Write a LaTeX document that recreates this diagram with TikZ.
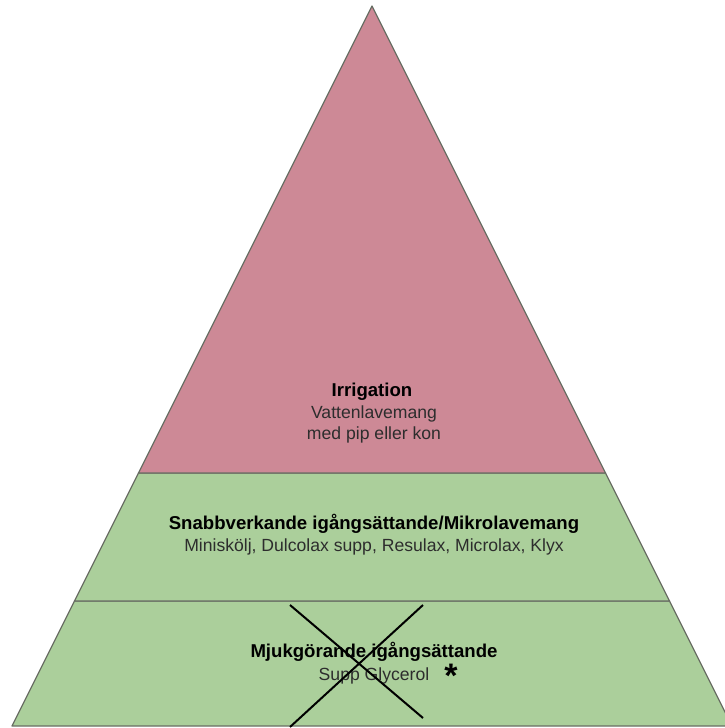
\documentclass[tikz,border=0pt]{standalone}
\usepackage{fontspec}
\setmainfont{Liberation Sans}
\definecolor{toppink}{RGB}{205,137,150}
\definecolor{layergreen}{RGB}{171,207,155}
\definecolor{edgegray}{RGB}{105,110,100}
\definecolor{subgray}{RGB}{45,45,45}
\begin{document}
\begin{tikzpicture}[x=0.5pt,y=-0.5pt,
        layer/.style={draw=edgegray, line width=0.6pt, line join=round},
        title/.style={anchor=base, inner sep=0pt, text=black, font=\bfseries\fontsize{9.3}{10.5}\selectfont},
        sub/.style={anchor=base, inner sep=0pt, text=subgray, font=\fontsize{8.8}{10.5}\selectfont},
        crossline/.style={black, line width=1pt}]
        \useasboundingbox (0,0) rectangle (724,728);

        % three layers, bottom to top
        \filldraw[layer, fill=layergreen] (74.5,601) -- (669.5,601) -- (732,726) -- (12,726) -- cycle;
        \filldraw[layer, fill=layergreen] (138.5,473) -- (605.5,473) -- (669.5,601) -- (74.5,601) -- cycle;
        \filldraw[layer, fill=toppink] (372,6) -- (605.5,473) -- (138.5,473) -- cycle;

        % top
        \node[title] (irrtitle) at (372,396) {Irrigation};
        \node[sub] (irrsub1) at (374,418) {Vattenlavemang};
        \node[sub] (irrsub2) at (374,439) {med pip eller kon};

        % middle
        \node[title] (snabbtitle) at (374,529) {Snabbverkande igångsättande/Mikrolavemang};
        \node[sub] (snabbsub) at (374,551) {Miniskölj, Dulcolax supp, Resulax, Microlax, Klyx};

        % bottom
        \node[title] (mjuktitle) at (374,657) {Mjukgörande igångsättande};
        \node[sub] (mjuksub) at (374,680) {Supp Glycerol};
        \node[inner sep=0pt, font=\bfseries\fontsize{17}{17}\selectfont] (star) at (451,676) {*};

        %\draw[red] (290,605) rectangle (423,727);
        \draw[crossline] (290,605) -- (423,718);
        \draw[crossline] (423,605) -- (290,727);
    \end{tikzpicture}
\end{document}
